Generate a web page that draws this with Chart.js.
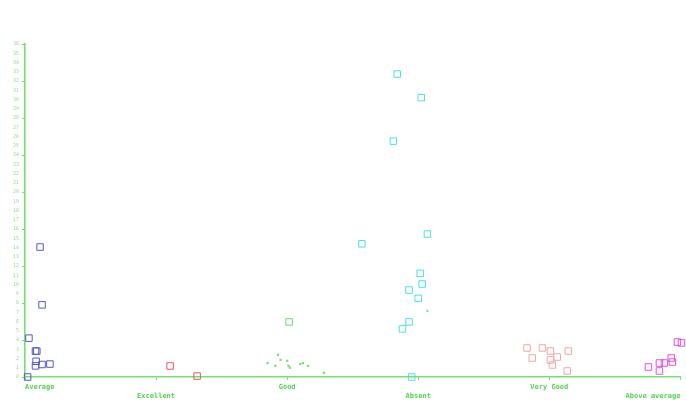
<!DOCTYPE html>
<html>
<head>
<meta charset="utf-8">
<script src="https://cdn.jsdelivr.net/npm/chart.js@4/dist/chart.umd.min.js"></script>
<style>
  html, body { margin: 0; padding: 0; background: #ffffff; }
  #wrap { width: 686px; height: 400px; }
</style>
</head>
<body>
<div id="wrap"><canvas id="c" width="686" height="400"></canvas></div>
<script>
// Rating categories along the x axis
const categories = ['Average', 'Excellent', 'Good', 'Absent', 'Very Good', 'Above average'];

// Horizontal jitter (offset from the category position) and values per group
const averageJitter = [0.02, 0.03, 0.115, 0.13, 0.08, 0.09, 0.085, 0.08, 0.13, 0.19];
const averageValues = [0.0, 4.2, 14.05, 7.8, 2.8, 2.8, 1.7, 1.2, 1.35, 1.4];

const excellentJitter = [0.107, 0.313];
const excellentValues = [1.19, 0.1];

const goodJitter = [0.015];
const goodValues = [5.95];
const goodSmallJitter = [-0.15, -0.09, -0.07, -0.05, 0.0, 0.01, 0.02, 0.1, 0.12, 0.16, 0.28];
const goodSmallValues = [1.5, 1.2, 2.4, 1.85, 1.75, 1.2, 1.0, 1.4, 1.5, 1.2, 0.45];

const absentJitter = [-0.16, 0.023, -0.19, 0.07, -0.43, 0.015, 0.03, -0.07, 0.0, -0.07, -0.12, -0.05];
const absentValues = [32.75, 30.2, 25.5, 15.45, 14.4, 11.2, 10.05, 9.4, 8.5, 5.95, 5.2, 0.0];
const absentSmallJitter = [0.07];
const absentSmallValues = [7.15];

const veryGoodJitter = [-0.17, -0.053, 0.008, -0.13, 0.06, 0.008, 0.023, 0.145, 0.137];
const veryGoodValues = [3.14, 3.14, 2.81, 2.05, 2.16, 1.84, 1.3, 2.81, 0.65];

const aboveJitter = [-0.023, 0.008, -0.244, -0.16, -0.16, -0.122, -0.07, -0.061];
const aboveValues = [3.78, 3.68, 1.08, 1.51, 0.65, 1.51, 2.05, 1.62];

// y axis range and tick spacing
const yMax = 36;
const yStep = 1;

const axisGreen = '#6fe36f';
const labelGreen = '#4fd44f';

function points(catIndex, jitter, values) {
  return values.map((v, i) => ({ x: catIndex + jitter[i], y: v }));
}

function squares(label, data, color) {
  return {
    label: label,
    data: data,
    clip: false,
    pointStyle: 'rect',
    pointRadius: 4.6,
    pointBorderWidth: 1,
    pointBorderColor: color,
    pointBackgroundColor: 'rgba(0,0,0,0)',
    showLine: false
  };
}

function dots(label, data, color) {
  return {
    label: label,
    data: data,
    clip: false,
    pointStyle: 'rect',
    pointRadius: 1.6,
    pointBorderWidth: 0,
    pointBorderColor: color,
    pointBackgroundColor: color,
    showLine: false
  };
}

const datasets = [
  squares('Average', points(0, averageJitter, averageValues), '#5555d2'),
  squares('Excellent', points(1, excellentJitter, excellentValues), '#e05a5a'),
  squares('Good', points(2, goodJitter, goodValues), '#6cd86c'),
  dots('Good (small)', points(2, goodSmallJitter, goodSmallValues), '#7ddd7d'),
  squares('Absent', points(3, absentJitter, absentValues), '#48e2e2'),
  dots('Absent (small)', points(3, absentSmallJitter, absentSmallValues), '#6ae6e6'),
  squares('Very Good', points(4, veryGoodJitter, veryGoodValues), '#f2a6a6'),
  squares('Above average', points(5, aboveJitter, aboveValues), '#e050e0')
];

new Chart(document.getElementById('c'), {
  type: 'scatter',
  data: { datasets: datasets },
  options: {
    responsive: false,
    animation: false,
    events: [],
    layout: { padding: { top: 44, right: 3, left: 0, bottom: 0 } },
    plugins: { legend: { display: false }, tooltip: { enabled: false } },
    scales: {
      x: {
        type: 'linear',
        min: 0,
        max: categories.length - 1,
        afterBuildTicks: (scale) => {
          scale.ticks = categories.map((c, i) => ({ value: i }));
        },
        afterFit: (scale) => { scale.height = 23; },
        border: { display: true, color: axisGreen, width: 1.6 },
        grid: { drawOnChartArea: false, drawTicks: true, tickLength: 3, color: axisGreen },
        ticks: {
          autoSkip: false,
          maxRotation: 0,
          align: 'inner',
          padding: 2,
          color: labelGreen,
          font: { family: 'DejaVu Sans Mono', size: 7, weight: 'bold', lineHeight: 1.35 },
          callback: (v, i) => (i % 2 === 0 ? categories[i] : ['', categories[i]])
        }
      },
      y: {
        type: 'linear',
        min: 0,
        max: yMax,
        afterFit: (scale) => { scale.width = 25; },
        border: { display: true, color: axisGreen, width: 1.6 },
        grid: {
          drawOnChartArea: false,
          drawTicks: true,
          tickLength: 3,
          tickColor: (ctx) => (ctx.index % 4 === 0 ? axisGreen : 'rgba(0,0,0,0)')
        },
        ticks: {
          stepSize: yStep,
          autoSkip: false,
          padding: 3,
          color: '#8fe08f',
          font: { family: 'DejaVu Sans Mono', size: 5 }
        }
      }
    }
  }
});
</script>
</body>
</html>
